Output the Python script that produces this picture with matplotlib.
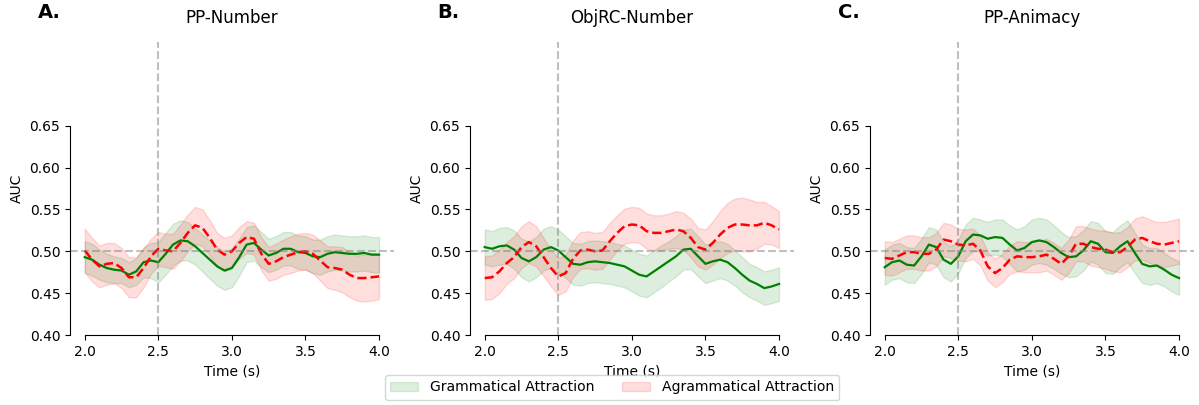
import numpy as np
import matplotlib
matplotlib.use("Agg")
import matplotlib.pyplot as plt

# time axis (s), sampled every 50 ms
time = np.round(np.arange(2.0, 4.001, 0.05), 2)

titles = ["PP-Number", "ObjRC-Number", "PP-Animacy"]
letters = ["A.", "B.", "C."]

# mean AUC and standard error per condition
pp_num_gram = [0.493, 0.490, 0.484, 0.480, 0.478, 0.477, 0.472, 0.476, 0.487, 0.489,
               0.487, 0.497, 0.508, 0.513, 0.512, 0.506, 0.498, 0.490, 0.482, 0.477,
               0.480, 0.493, 0.508, 0.510, 0.502, 0.495, 0.498, 0.503, 0.503, 0.499,
               0.498, 0.494, 0.493, 0.497, 0.499, 0.498, 0.497, 0.497, 0.498, 0.496,
               0.496]
pp_num_gram_se = [0.019, 0.019, 0.018, 0.017, 0.016, 0.015, 0.015, 0.016, 0.018, 0.021,
                  0.024, 0.025, 0.025, 0.024, 0.023, 0.022, 0.022, 0.023, 0.023, 0.023,
                  0.023, 0.022, 0.021, 0.021, 0.021, 0.020, 0.020, 0.020, 0.020, 0.020,
                  0.020, 0.020, 0.021, 0.021, 0.021, 0.021, 0.021, 0.021, 0.021, 0.021,
                  0.021]
pp_num_agram = [0.501, 0.490, 0.482, 0.485, 0.486, 0.480, 0.469, 0.469, 0.480, 0.494,
                0.503, 0.501, 0.500, 0.510, 0.522, 0.531, 0.528, 0.516, 0.502, 0.496,
                0.500, 0.510, 0.517, 0.515, 0.497, 0.485, 0.488, 0.493, 0.496, 0.499,
                0.500, 0.497, 0.489, 0.481, 0.480, 0.478, 0.472, 0.468, 0.468, 0.469,
                0.470]
pp_num_agram_se = [0.026, 0.026, 0.025, 0.025, 0.024, 0.024, 0.024, 0.024, 0.023, 0.021,
                   0.020, 0.020, 0.021, 0.022, 0.022, 0.022, 0.022, 0.021, 0.020, 0.020,
                   0.019, 0.019, 0.019, 0.019, 0.020, 0.020, 0.021, 0.021, 0.022, 0.022,
                   0.022, 0.023, 0.024, 0.025, 0.026, 0.027, 0.027, 0.027, 0.028, 0.028,
                   0.027]

objrc_gram = [0.505, 0.503, 0.506, 0.507, 0.502, 0.492, 0.488, 0.493, 0.502, 0.505,
              0.501, 0.493, 0.485, 0.484, 0.487, 0.488, 0.487, 0.486, 0.484, 0.482,
              0.477, 0.472, 0.470, 0.476, 0.482, 0.488, 0.494, 0.502, 0.503, 0.494,
              0.485, 0.488, 0.490, 0.487, 0.480, 0.472, 0.465, 0.461, 0.456, 0.458,
              0.461]
objrc_gram_se = [0.021, 0.021, 0.022, 0.022, 0.023, 0.023, 0.024, 0.024, 0.025, 0.025,
                 0.025, 0.025, 0.025, 0.025, 0.025, 0.025, 0.025, 0.025, 0.025, 0.025,
                 0.025, 0.025, 0.025, 0.025, 0.025, 0.024, 0.024, 0.024, 0.024, 0.024,
                 0.023, 0.023, 0.022, 0.022, 0.021, 0.021, 0.020, 0.020, 0.020, 0.020,
                 0.020]
objrc_agram = [0.468, 0.469, 0.476, 0.486, 0.493, 0.505, 0.511, 0.506, 0.493, 0.480,
               0.470, 0.474, 0.491, 0.501, 0.502, 0.500, 0.501, 0.512, 0.522, 0.530,
               0.532, 0.531, 0.524, 0.522, 0.522, 0.524, 0.526, 0.524, 0.516, 0.505,
               0.502, 0.510, 0.520, 0.528, 0.532, 0.532, 0.531, 0.531, 0.534, 0.531,
               0.526]
objrc_agram_se = [0.026, 0.026, 0.026, 0.025, 0.025, 0.025, 0.025, 0.024, 0.023, 0.022,
                  0.022, 0.022, 0.022, 0.022, 0.022, 0.022, 0.022, 0.022, 0.021, 0.021,
                  0.021, 0.021, 0.021, 0.021, 0.021, 0.021, 0.022, 0.022, 0.023, 0.023,
                  0.024, 0.026, 0.028, 0.030, 0.031, 0.032, 0.031, 0.028, 0.025, 0.023,
                  0.022]

pp_anim_gram = [0.481, 0.487, 0.489, 0.484, 0.483, 0.494, 0.508, 0.505, 0.490, 0.485,
                0.494, 0.512, 0.520, 0.519, 0.515, 0.517, 0.516, 0.508, 0.501, 0.504,
                0.511, 0.513, 0.511, 0.505, 0.498, 0.493, 0.494, 0.501, 0.512, 0.509,
                0.499, 0.498, 0.506, 0.512, 0.498, 0.485, 0.482, 0.483, 0.478, 0.472,
                0.468]
pp_anim_gram_se = [0.021, 0.021, 0.021, 0.021, 0.021, 0.021, 0.021, 0.021, 0.021, 0.021,
                   0.020, 0.020, 0.020, 0.019, 0.020, 0.021, 0.022, 0.023, 0.025, 0.026,
                   0.027, 0.027, 0.027, 0.026, 0.025, 0.024, 0.024, 0.024, 0.024, 0.025,
                   0.025, 0.025, 0.025, 0.025, 0.024, 0.023, 0.022, 0.021, 0.020, 0.020,
                   0.020]
pp_anim_agram = [0.492, 0.491, 0.495, 0.499, 0.499, 0.497, 0.497, 0.502, 0.514, 0.512,
                 0.508, 0.507, 0.509, 0.501, 0.482, 0.474, 0.480, 0.490, 0.494, 0.493,
                 0.493, 0.494, 0.496, 0.491, 0.485, 0.494, 0.509, 0.509, 0.505, 0.503,
                 0.502, 0.499, 0.499, 0.505, 0.514, 0.516, 0.512, 0.509, 0.508, 0.510,
                 0.512]
pp_anim_agram_se = [0.020, 0.020, 0.020, 0.020, 0.020, 0.020, 0.020, 0.020, 0.020, 0.020,
                    0.019, 0.019, 0.018, 0.018, 0.017, 0.017, 0.017, 0.017, 0.018, 0.018,
                    0.018, 0.019, 0.019, 0.019, 0.019, 0.020, 0.021, 0.021, 0.022, 0.022,
                    0.023, 0.023, 0.024, 0.024, 0.025, 0.026, 0.026, 0.026, 0.027, 0.027,
                    0.027]

gram = [pp_num_gram, objrc_gram, pp_anim_gram]
gram_se = [pp_num_gram_se, objrc_gram_se, pp_anim_gram_se]
agram = [pp_num_agram, objrc_agram, pp_anim_agram]
agram_se = [pp_num_agram_se, objrc_agram_se, pp_anim_agram_se]

fig = plt.figure(figsize=(11.99, 4.05), dpi=100)
lefts = [0.0584, 0.392, 0.7256]

for i in range(3):
    ax = fig.add_axes([lefts[i], 0.1728, 0.27, 0.7235])
    g = np.array(gram[i])
    gs = np.array(gram_se[i])
    a = np.array(agram[i])
    as_ = np.array(agram_se[i])

    ax.fill_between(time, g - gs, g + gs, color="green", alpha=0.13,
                    label="Grammatical Attraction")
    ax.fill_between(time, a - as_, a + as_, color="red", alpha=0.13,
                    label="Agrammatical Attraction")
    ax.plot(time, g, color="green", lw=1.6)
    ax.plot(time, a, color="red", lw=1.8, ls="--")

    ax.axhline(0.5, color="grey", ls="--", lw=1.5, alpha=0.5)
    ax.axvline(2.5, color="grey", ls="--", lw=1.5, alpha=0.5)

    ax.set_ylim(0.40, 0.75)
    ax.set_yticks(np.arange(0.40, 0.651, 0.05))
    ax.set_xticks([2.0, 2.5, 3.0, 3.5, 4.0])
    ax.set_xlim(1.9, 4.1)
    ax.set_xlabel("Time (s)")
    ax.set_ylabel("AUC")
    ax.set_title(titles[i], fontsize=12, pad=14)

    # despine with trimmed spines
    ax.spines["top"].set_visible(False)
    ax.spines["right"].set_visible(False)
    ax.spines["left"].set_bounds(0.40, 0.65)
    ax.spines["bottom"].set_bounds(2.0, 4.0)

    fig.text(lefts[i] - 0.027, 0.97, letters[i], fontsize=14,
             fontweight="bold", ha="left", va="center")

handles, labels = ax.get_legend_handles_labels()
fig.legend(handles, labels, loc="lower center", ncol=2,
           bbox_to_anchor=(0.5105, -0.005), fontsize=10.1)

fig.savefig("out.png", dpi=100)
